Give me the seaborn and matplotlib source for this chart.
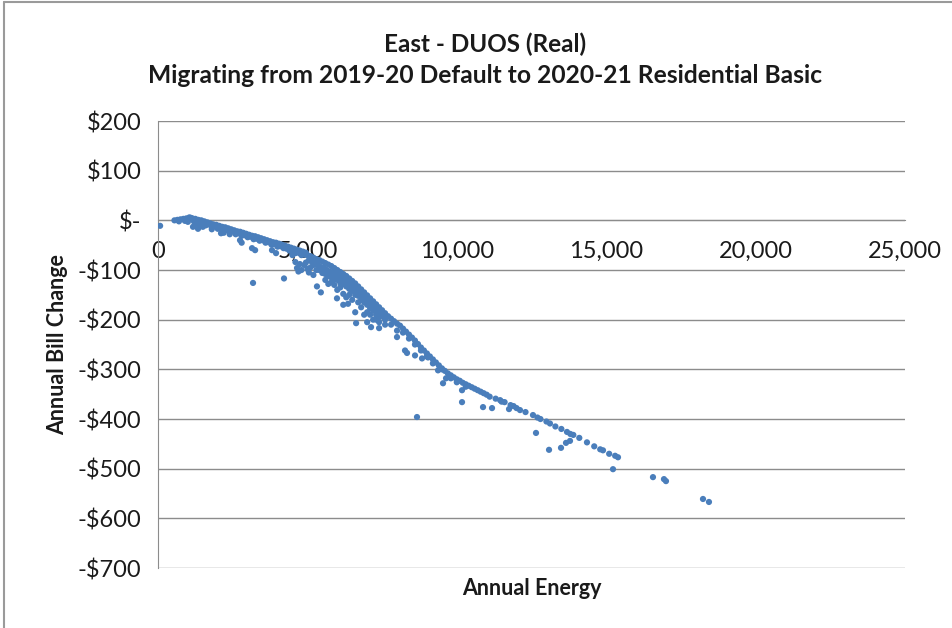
import numpy as np
import pandas as pd
import seaborn as sns
import matplotlib.pyplot as plt
from matplotlib.lines import Line2D

# annual energy (kWh) / annual bill change ($)
# low-usage band, 0 - 5,000
energy_a = [70, 550, 650, 750, 850, 950, 1050, 1100, 1150, 1250, 1350, 1450, 1550, 1650, 1750, 1850,
            1950, 2050, 2150, 2250, 2350, 2450, 2550, 2650, 2750, 2850, 2950, 3050, 3150, 3250, 3350,
            3450, 3550, 3650, 3750, 3850, 3950, 4050, 4150, 4250, 4350, 4450, 4550, 4650, 4750, 4850, 4950,
            700, 900, 1000, 1200, 1300, 1400, 1500, 1600, 1700, 1800, 1900, 2000, 2100, 2200, 2300, 2400,
            2500, 2600, 2700, 2800, 2900, 3000, 3100, 3200, 3300, 3400, 3500, 3600, 3700, 3800, 3900,
            4000, 4100, 4200, 4300, 4400, 4500, 4600, 4700, 4800, 4900,
            1171, 1339, 1350, 1500, 1800, 2109, 2200, 2400, 2745, 2800, 3146, 3180, 3250, 3815, 3950,
            4217, 4500, 4600, 4652, 4700, 4800, 4750, 4900]
change_a = [-11, 0, 1, 2, 3, 4, 6, 5, 4, 3, 1, 0, -2, -4, -6, -8,
            -9, -11, -13, -14, -16, -18, -20, -22, -23, -25, -27, -29, -31, -32, -34,
            -36, -38, -40, -42, -44, -45, -47, -49, -51, -53, -55, -57, -59, -61, -63, -65,
            -2, -1, -3, -2, -6, -9, -5, -10, -8, -14, -12, -17, -15, -20, -19, -24,
            -22, -28, -26, -31, -30, -34, -33, -38, -37, -41, -40, -45, -44, -49, -48,
            -53, -52, -56, -57, -61, -62, -66, -65, -70, -69,
            -13, -17, -12, -13, -18, -26, -25, -28, -40, -45, -56, -126, -60, -60, -66,
            -117, -70, -84, -96, -103, -100, -88, -90]

# steeper section, 5,000 - 8,000
energy_b = [5000, 5100, 5200, 5300, 5400, 5500, 5600, 5700, 5800, 5900, 6000, 6100, 6200, 6300, 6400,
            6500, 6600, 6700, 6800, 6900, 7000, 7100, 7200, 7300, 7400, 7500, 7600, 7700, 7800, 7900,
            5050, 5150, 5250, 5350, 5450, 5550, 5650, 5750, 5850, 5950, 6050, 6150, 6250, 6350, 6450,
            6550, 6650, 6750, 6850, 6950, 7050, 7150, 7250, 7350, 7450, 7550,
            5100, 5300, 5500, 5700, 5900, 6100, 6300, 6500, 6700, 6900, 7100, 7300,
            4950, 5000, 5050, 5200, 5320, 5450, 5600, 5800, 5990, 6000, 6200, 6360, 6500, 6630, 6800,
            7000, 7130, 7200, 7400, 7400, 7600, 6100, 5700, 6400, 6900, 7300,
            5200, 5400, 5600, 5800, 6000, 6200, 6400, 6600, 6800, 7000, 7200, 7400, 7600, 5900, 6300,
            6700, 7100, 6200, 6600, 7000]
change_b = [-70, -72, -75, -78, -80, -83, -86, -89, -92, -96, -100, -104, -108, -112, -117,
            -122, -127, -133, -139, -145, -151, -157, -163, -169, -175, -181, -187, -193, -198, -203,
            -80, -84, -88, -90, -94, -96, -100, -103, -106, -110, -114, -118, -122, -127, -132,
            -137, -142, -148, -154, -160, -166, -172, -177, -183, -189, -195,
            -95, -100, -106, -112, -118, -126, -133, -142, -152, -165, -177, -190,
            -85, -98, -105, -110, -133, -145, -120, -125, -157, -140, -148, -168, -160, -207, -175,
            -185, -215, -200, -217, -205, -210, -135, -128, -150, -190, -200,
            -90, -100, -108, -115, -120, -128, -138, -150, -160, -170, -182, -195, -200, -130, -155,
            -165, -190, -170, -185, -205]

# 8,000 - 11,000
energy_c = [8000, 8100, 8200, 8300, 8400, 8500, 8600, 8700, 8800, 8900, 9000, 9100, 9200, 9300, 9400,
            9500, 9600, 9700, 9800, 9900, 10000, 10100, 10200, 10300, 10400, 10500, 10600, 10700, 10800,
            10900, 11000,
            7800, 8000, 8200, 8400, 8600, 8800, 9000, 9200, 9500, 9800, 10000, 10300,
            7999, 8267, 8334, 8602, 8836, 9037, 9372, 9539, 9640, 10175, 10175, 10878, 11179, 11748, 8668]
change_c = [-208, -212, -218, -224, -230, -236, -242, -249, -256, -262, -268, -274, -280, -286, -292,
            -298, -303, -308, -312, -316, -320, -323, -327, -330, -333, -336, -339, -342, -345,
            -348, -351,
            -210, -222, -226, -238, -250, -262, -274, -288, -300, -318, -326, -335,
            -235, -262, -267, -272, -278, -276, -302, -328, -318, -342, -366, -376, -378, -380, -396]

# high-usage tail
energy_d = [11100, 11300, 11450, 11600, 11800, 12000, 12115, 12300, 12550, 12800, 13000, 13119, 13300,
            13500, 13688, 13900, 14100, 14357, 14600, 14893, 15100, 15395, 15300, 14800, 13800, 12700,
            11900, 11500,
            12651, 13087, 13488, 13655, 13789, 15228,
            16566, 16934, 17001, 18240, 18440]
change_d = [-355, -359, -362, -366, -372, -378, -382, -386, -392, -400, -405, -409, -415,
            -420, -426, -432, -438, -447, -455, -463, -470, -477, -474, -461, -430, -397,
            -374, -365,
            -428, -462, -458, -448, -444, -501,
            -517, -521, -525, -561, -567]

x_ticks = [0, 5000, 10000, 15000, 20000, 25000]
y_ticks = [200, 100, 0, -100, -200, -300, -400, -500, -600, -700]
y_labels = ["$200", "$100", "$-", "-$100", "-$200", "-$300", "-$400", "-$500", "-$600", "-$700"]

df = pd.DataFrame({
    "energy": energy_a + energy_b + energy_c + energy_d,
    "change": change_a + change_b + change_c + change_d,
})

sns.set_style("white")
plt.rcParams["font.family"] = ["Lato", "DejaVu Sans"]

fig = plt.figure(figsize=(9.53, 6.28), dpi=100)
ax = fig.add_axes([0.1658, 0.0955, 0.7838, 0.7118])

grid_col = "#8c8c8c"
for v in y_ticks:
    ax.axhline(v, color=grid_col, lw=1, zorder=0)

sns.scatterplot(data=df, x="energy", y="change", ax=ax, s=20, color="#4a7ebb",
                edgecolor="none", linewidth=0, zorder=3, legend=False)

ax.set_xlim(0, 25000)
ax.set_ylim(-700, 200)
ax.set_xticks(x_ticks)
ax.set_xticklabels([f"{v:,}" for v in x_ticks])
ax.set_yticks(y_ticks)
ax.set_yticklabels(y_labels)

for s in ["top", "right"]:
    ax.spines[s].set_visible(False)
ax.spines["left"].set_color(grid_col)
ax.spines["bottom"].set_color(grid_col)
ax.spines["bottom"].set_position(("data", 0))
ax.tick_params(axis="both", colors=grid_col, length=6, width=1, labelsize=17, labelcolor="#1a1a1a")
ax.tick_params(axis="x", pad=9)
ax.tick_params(axis="y", pad=6)
ax.set_xlabel("")
ax.set_ylabel("")

fig.text(0.509, 0.930, "East - DUOS (Real)", ha="center", va="center",
         fontsize=17.5, fontweight="bold", color="#1a1a1a")
fig.text(0.509, 0.880, "Migrating from 2019-20 Default to 2020-21 Residential Basic", ha="center",
         va="center", fontsize=17.7, fontweight="bold", color="#1a1a1a")
fig.text(0.558, 0.063, "Annual Energy", ha="center", va="center", fontsize=15.5,
         fontweight="bold", color="#1a1a1a")
fig.text(0.060, 0.452, "Annual Bill Change", ha="center", va="center", rotation=90,
         fontsize=15.5, fontweight="bold", color="#1a1a1a")

# chart border (left and top edges visible)
fig.add_artist(Line2D([0.0045, 0.0045], [0.0, 0.997], transform=fig.transFigure, color="#9a9a9a", lw=1.5))
fig.add_artist(Line2D([0.0045, 1.0], [0.997, 0.997], transform=fig.transFigure, color="#9a9a9a", lw=1.5))

fig.savefig("out.png", dpi=100)
